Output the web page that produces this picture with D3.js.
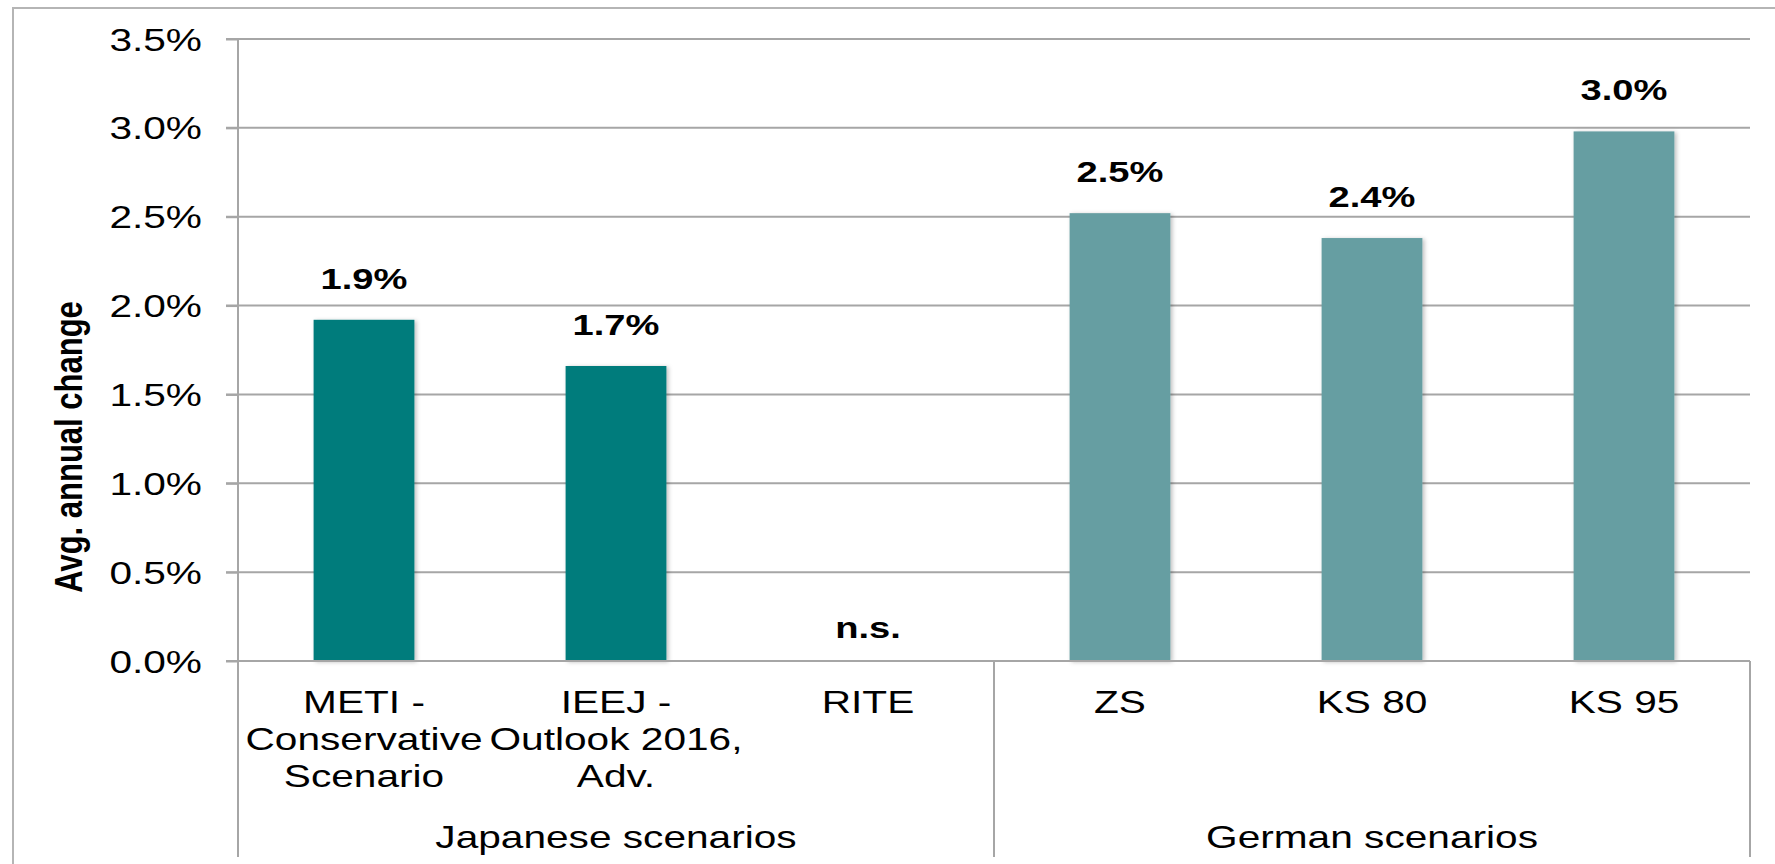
<!DOCTYPE html>
<html>
<head>
<meta charset="utf-8">
<script src="https://cdn.jsdelivr.net/npm/d3@7"></script>
<style>
  body { margin: 0; background: #fff; }
  text { font-family: "Liberation Sans", Arial, Helvetica, sans-serif; fill: #000; }
</style>
</head>
<body>
<div id="chart"></div>
<script>
// chart data
var categories = ["METI", "IEEJ", "RITE", "ZS", "KS 80", "KS 95"];
var categoryLines = [
	["METI -", "Conservative", "Scenario"],
	["IEEJ -", "Outlook 2016,", "Adv."],
	["RITE"],
	["ZS"],
	["KS 80"],
	["KS 95"]
];
var values = [1.92, 1.66, null, 2.52, 2.38, 2.98];
var groupOf = [0, 0, 0, 1, 1, 1];
var groupNames = ["Japanese scenarios", "German scenarios"];
var groupColors = ["#017b7c", "#669ea2"];
var yTicks = [0, 0.5, 1.0, 1.5, 2.0, 2.5, 3.0, 3.5];
var yTitle = "Avg. annual change";

// page size
var svgWidth = 1775;
var svgHeight = 864;

// plot box
var margin = { top: 39, right: 25, bottom: 203, left: 238 };
var width = svgWidth - margin.left - margin.right;
var height = svgHeight - margin.top - margin.bottom;
var catBottom = 857 - margin.top; // bottom of category area

// text in the original is stretched sideways
var sx = 1.27;
var lineColor = "#a6a6a6";

function stretched(x, y, extra) {
	return `translate(${x}, ${y}) scale(${sx}, 1)` + (extra || "");
}

var svg = d3.select("#chart")
	.append("svg")
	.attr("width", svgWidth)
	.attr("height", svgHeight);

// soft shadow for bars
var defs = svg.append("defs");
defs.append("filter")
	.attr("id", "shadow")
	.attr("x", "-20%").attr("y", "-20%")
	.attr("width", "140%").attr("height", "140%")
	.append("feDropShadow")
	.attr("dx", 2).attr("dy", 1)
	.attr("stdDeviation", 2)
	.attr("flood-color", "#000")
	.attr("flood-opacity", 0.25);

// outer frame
svg.append("rect")
	.attr("x", 13)
	.attr("y", 8)
	.attr("width", svgWidth + 50)
	.attr("height", svgHeight + 50)
	.attr("fill", "none")
	.attr("stroke", "#b5b5b5")
	.attr("stroke-width", 2);

var chartGroup = svg.append("g")
	.attr("transform", `translate(${margin.left}, ${margin.top})`);

// scales
var xScale = d3.scaleBand()
	.domain(categories)
	.range([0, width])
	.padding(0);

var yScale = d3.scaleLinear()
	.domain([0, 3.5])
	.range([height, 0]);

var barWidth = xScale.bandwidth() * 0.4;

// gridlines
chartGroup.append("g")
	.selectAll("line")
	.data(yTicks)
	.enter()
	.append("line")
	.attr("x1", -12)
	.attr("x2", width)
	.attr("y1", d => yScale(d))
	.attr("y2", d => yScale(d))
	.attr("stroke", lineColor)
	.attr("stroke-width", 2);

// y axis
var leftAxis = d3.axisLeft(yScale)
	.tickValues(yTicks)
	.tickSize(12)
	.tickPadding(24)
	.tickFormat(d => d3.format(".1f")(d) + "%");

var yAxis = chartGroup.append("g")
	.call(leftAxis);

yAxis.select(".domain").remove();
yAxis.selectAll("line").attr("stroke", lineColor).attr("stroke-width", 2);
yAxis.selectAll("text")
	.attr("x", null)
	.attr("dy", null)
	.attr("transform", stretched(-36, 11))
	.style("font-size", "32px")
	.style("font-family", "'Liberation Sans', Arial, sans-serif")
	.attr("fill", "#000");

// vertical axis line down through category area
chartGroup.append("line")
	.attr("x1", 0).attr("x2", 0)
	.attr("y1", 0).attr("y2", catBottom)
	.attr("stroke", lineColor)
	.attr("stroke-width", 2);

// group separators
var groupEdges = [3, 6];
chartGroup.append("g")
	.selectAll("line")
	.data(groupEdges)
	.enter()
	.append("line")
	.attr("x1", d => d * xScale.step())
	.attr("x2", d => d * xScale.step())
	.attr("y1", height)
	.attr("y2", catBottom)
	.attr("stroke", lineColor)
	.attr("stroke-width", 2);

// bars
var barData = categories.map((c, i) => ({ cat: c, value: values[i], group: groupOf[i] }));

chartGroup.append("g")
	.selectAll("rect")
	.data(barData.filter(d => d.value !== null))
	.enter()
	.append("rect")
	.attr("x", d => xScale(d.cat) + (xScale.bandwidth() - barWidth) / 2)
	.attr("y", d => yScale(d.value))
	.attr("width", barWidth)
	.attr("height", d => height - yScale(d.value))
	.attr("fill", d => groupColors[d.group])
	.attr("filter", "url(#shadow)");

// redraw baseline over bars
chartGroup.append("line")
	.attr("x1", -12).attr("x2", width)
	.attr("y1", height).attr("y2", height)
	.attr("stroke", lineColor)
	.attr("stroke-width", 2);

// value labels
chartGroup.append("g")
	.selectAll("text")
	.data(barData)
	.enter()
	.append("text")
	.attr("transform", d => stretched(
		xScale(d.cat) + xScale.bandwidth() / 2,
		(d.value === null ? height : yScale(d.value)) - (d.value === null ? 23 : 31)))
	.attr("text-anchor", "middle")
	.style("font-size", "30px")
	.style("font-weight", "bold")
	.text(d => d.value === null ? "n.s." : d3.format(".1f")(d.value) + "%");

// category labels
var catLabels = chartGroup.append("g")
	.selectAll("text")
	.data(categories)
	.enter()
	.append("text")
	.attr("transform", (d, i) => stretched(xScale(d) + xScale.bandwidth() / 2, height + 52))
	.attr("text-anchor", "middle")
	.style("font-size", "32px");

catLabels.selectAll("tspan")
	.data((d, i) => categoryLines[i])
	.enter()
	.append("tspan")
	.attr("x", 0)
	.attr("dy", (d, j) => j === 0 ? 0 : 37)
	.text(d => d);

// group labels
chartGroup.append("g")
	.selectAll("text")
	.data(groupNames)
	.enter()
	.append("text")
	.attr("transform", (d, i) => stretched((i * 3 + 1.5) * xScale.step(), 848 - margin.top))
	.attr("text-anchor", "middle")
	.style("font-size", "32px")
	.text(d => d);

// y axis title
svg.append("text")
	.attr("transform", stretched(82, 447, " rotate(-90)"))
	.attr("text-anchor", "middle")
	.style("font-size", "31px")
	.style("font-weight", "bold")
	.text(yTitle);
</script>
</body>
</html>
